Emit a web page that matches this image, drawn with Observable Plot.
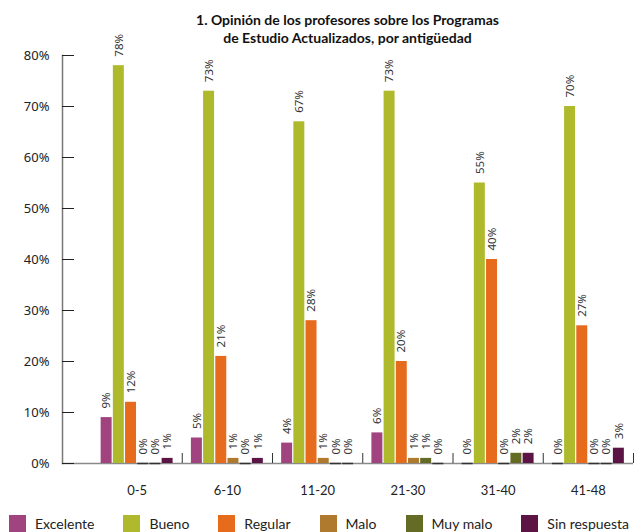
<!DOCTYPE html>
<html><head><meta charset="utf-8">
<script src="https://cdn.jsdelivr.net/npm/d3@7"></script>
<script src="https://cdn.jsdelivr.net/npm/@observablehq/plot@0.6"></script>
<style>
body{margin:0;background:#fff;width:640px;height:532px;overflow:hidden;position:relative;}
#title{position:absolute;left:62px;width:571px;top:11px;text-align:center;font:bold 14px/18px Lato, sans-serif;color:#111;z-index:3}
#axes, #chart{position:absolute;left:0;top:0;width:640px;height:505px}
#axes{z-index:1}
#chart{z-index:2}
#axes svg, #chart svg{display:block;background:transparent}
#legend{position:absolute;left:0;top:514px;width:660px}
#legend > div{margin:0 0 0 9px !important;min-height:18px !important;height:18px;flex-wrap:nowrap !important;font:14px Lato, sans-serif !important;color:#222}
#legend span{margin-right:29px !important}
#legend span:last-child{margin-right:0 !important}
#legend svg{margin-right:9px !important}
</style></head><body>
<div id="title">1. Opinión de los profesores sobre los Programas<br>de Estudio Actualizados, por antigüedad</div>
<div id="axes"></div>
<div id="chart"></div>
<div id="legend"></div>
<script>
const groups = ["0-5", "6-10", "11-20", "21-30", "31-40", "41-48"];
const series = ["Excelente", "Bueno", "Regular", "Malo", "Muy malo", "Sin respuesta"];
const excelente    = [9, 5, 4, 6, 0, 0];
const bueno        = [78, 73, 67, 73, 55, 70];
const regular      = [12, 21, 28, 20, 40, 27];
const malo         = [0, 1, 1, 1, 0, 0];
const muyMalo      = [0, 0, 0, 1, 2, 0];
const sinRespuesta = [1, 1, 0, 0, 2, 3];
const yTicks = [0, 10, 20, 30, 40, 50, 60, 70, 80];
const colors = ["#a0437f", "#aeb92b", "#e76b1d", "#b07a2e", "#646b25", "#5b1444"];

const values = [excelente, bueno, regular, malo, muyMalo, sinRespuesta];
const data = groups.flatMap((g, i) => series.map((s, j) => ({group: g, series: s, value: values[j][i]})));

// Axis layer: y axis line, baseline, inward ticks and percentage labels
const axes = Plot.plot({
  width: 640, height: 505,
  marginTop: 55, marginBottom: 42, marginLeft: 62, marginRight: 7,
  style: {fontFamily: "Noto Sans, sans-serif", overflow: "visible", background: "transparent"},
  y: {domain: [0, 80]},
  marks: [
    Plot.ruleY([0], {stroke: "#8a8a8a", strokeWidth: 1.5}),
    Plot.frame({anchor: "left", stroke: "#777", strokeWidth: 1.5}),
    Plot.axisY({ticks: yTicks, tickFormat: d => d + "%", tickSize: -12, tickPadding: 25, fontSize: 13, fill: "#222", stroke: "#222", label: null})
  ]
});
document.getElementById("axes").append(axes);

// Bar layer: grouped bars by seniority
const chart = Plot.plot({
  width: 640, height: 505,
  marginTop: 55, marginBottom: 42, marginLeft: 91.5, marginRight: 7,
  style: {fontFamily: "Noto Sans, sans-serif", overflow: "visible", background: "transparent"},
  fx: {domain: groups, paddingInner: 0, paddingOuter: 0, round: false, label: null},
  x: {domain: series, paddingInner: 0.1, paddingOuter: 0.75, round: false, axis: null},
  y: {domain: [0, 80], axis: null},
  color: {domain: series, range: colors},
  marks: [
    Plot.barY(data, {fx: "group", x: "series", y: "value", fill: "series"}),
    Plot.tickY(data.filter(d => d.value === 0), {fx: "group", x: "series", y: 0, stroke: "#333", strokeWidth: 1.5}),
    Plot.text(data, {fx: "group", x: "series", y: "value", text: d => d.value + "%", rotate: -90, textAnchor: "start", dy: -9, fontSize: 11.5, fill: "#333"}),
    Plot.axisFx({anchor: "bottom", tickSize: 0, tickPadding: 22, label: null, fontSize: 13, fontFamily: "Lato, sans-serif", fill: "#222"}),
    Plot.axisFx({anchor: "bottom", tickSize: -10, tickFormat: () => "", label: null, dx: 45.125, stroke: "#333"})
  ]
});
document.getElementById("chart").append(chart);
document.getElementById("legend").append(Plot.legend({color: {domain: series, range: colors}, swatchSize: 17}));
</script>
</body></html>
